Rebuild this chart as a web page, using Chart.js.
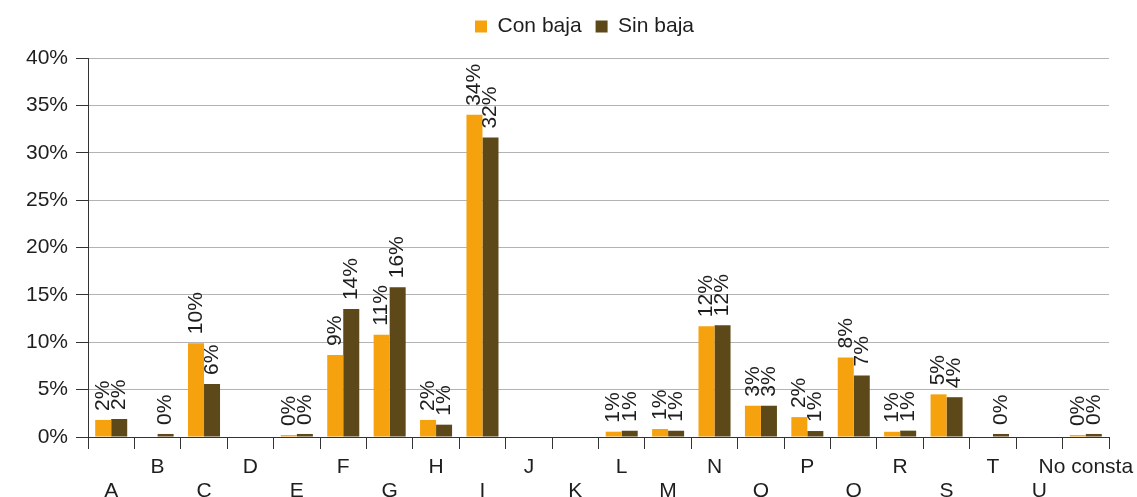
<!DOCTYPE html>
<html>
<head>
<meta charset="utf-8">
<script src="https://cdn.jsdelivr.net/npm/chart.js@4"></script>
<style>
  html, body { margin: 0; padding: 0; background: #fff; }
  #wrap { width: 1137px; height: 497px; }
</style>
</head>
<body>
<div id="wrap"><canvas id="chart"></canvas></div>
<script>
const categories = ['A', 'B', 'C', 'D', 'E', 'F', 'G', 'H', 'I', 'J', 'K', 'L', 'M', 'N', 'O', 'P', 'Q', 'R', 'S', 'T', 'U', 'No consta'];

const conBaja = [1.8, null, 9.9, null, 0.2, 8.65, 10.8, 1.8, 34.0, null, null, 0.56, 0.84, 11.7, 3.3, 2.1, 8.4, 0.55, 4.5, null, null, 0.2];
const sinBaja = [1.9, 0.32, 5.6, null, 0.32, 13.5, 15.8, 1.3, 31.6, null, null, 0.66, 0.66, 11.8, 3.3, 0.63, 6.5, 0.67, 4.2, 0.32, null, 0.32];

const yTicks = [0, 5, 10, 15, 20, 25, 30, 35, 40];

Chart.defaults.font.family = 'Liberation Sans';
Chart.defaults.font.size = 21;
Chart.defaults.color = '#1e1e1e';

// rotated value labels above each bar
const barLabels = {
  id: 'barLabels',
  afterDatasetsDraw(chart) {
    const ctx = chart.ctx;
    ctx.save();
    ctx.font = '21px "Liberation Sans"';
    ctx.fillStyle = '#1e1e1e';
    ctx.textAlign = 'left';
    ctx.textBaseline = 'middle';
    chart.data.datasets.forEach((ds, i) => {
      chart.getDatasetMeta(i).data.forEach((bar, j) => {
        const v = ds.data[j];
        if (v === null) return;
        ctx.save();
        ctx.translate(bar.x, bar.y - 9);
        ctx.rotate(-Math.PI / 2);
        ctx.fillText(Math.round(v) + '%', 0, 0);
        ctx.restore();
      });
    });
    ctx.restore();
  }
};

// more room under the legend, and legend nudged right
const legendTweak = {
  id: 'legendTweak',
  beforeInit(chart) {
    const fit = chart.legend.fit;
    chart.legend.fit = function () {
      fit.call(this);
      this.height += 11;
    };
  },
  afterLayout(chart) {
    chart.legend.left += 30;
    chart.legend.right += 30;
  }
};

new Chart(document.getElementById('chart'), {
  type: 'bar',
  data: {
    labels: categories,
    datasets: [
      { label: 'Con baja', data: conBaja, backgroundColor: '#F6A10E' },
      { label: 'Sin baja', data: sinBaja, backgroundColor: '#5C4818' }
    ]
  },
  options: {
    responsive: true,
    maintainAspectRatio: false,
    animation: false,
    categoryPercentage: 0.69,
    barPercentage: 1,
    layout: { padding: { left: 0, right: 28, top: 2, bottom: 0 } },
    plugins: {
      tooltip: { enabled: false },
      legend: {
        position: 'top',
        labels: {
          boxWidth: 12,
          boxHeight: 12,
          padding: 14,
          color: '#1e1e1e',
          font: { size: 21 }
        }
      }
    },
    scales: {
      x: {
        grid: {
          drawOnChartArea: true,
          color: ctx => ctx.index === categories.length ? '#b3b3b3' : 'rgba(0,0,0,0)',
          tickColor: '#333',
          tickLength: 12
        },
        border: { color: '#333' },
        ticks: {
          padding: 6,
          maxRotation: 0,
          autoSkip: false,
          font: { size: 21, lineHeight: 1.15 },
          callback: (v, i) => i % 2 === 0 ? ['', categories[i]] : [categories[i], '']
        },
        afterFit(scale) {
          scale.height = 60;
          scale.paddingLeft = 0;
          scale.paddingRight = 0;
        }
      },
      y: {
        min: 0,
        max: 40,
        afterBuildTicks(scale) { scale.ticks = yTicks.map(v => ({ value: v })); },
        grid: { color: '#b3b3b3', tickColor: '#333', tickLength: 12 },
        border: { color: '#333' },
        ticks: {
          padding: 8,
          callback: v => v + '%'
        },
        afterFit(scale) { scale.width = 88; }
      }
    }
  },
  plugins: [barLabels, legendTweak]
});
</script>
</body>
</html>
